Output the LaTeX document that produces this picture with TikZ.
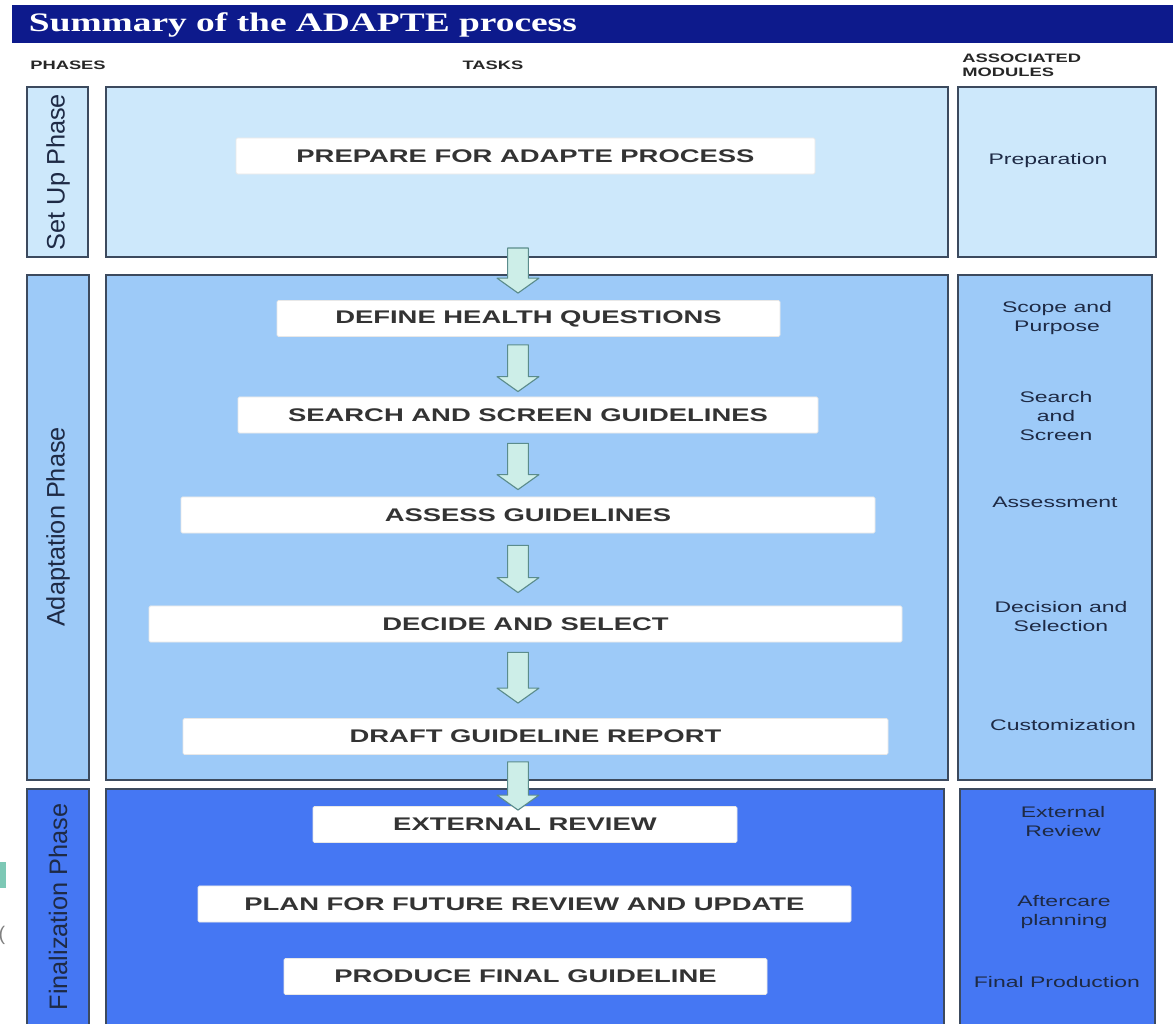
\documentclass[tikz,border=0pt]{standalone}
\usepackage{fontspec}
\setmainfont{Liberation Sans}
\newfontfamily\widesans[FakeStretch=1.5]{Liberation Sans}
\newfontfamily\widetitle[FakeStretch=1.4]{Liberation Serif}
\usetikzlibrary{fit,calc}

\definecolor{navy}{HTML}{0D1A8C}
\definecolor{edge}{HTML}{3C4A5E}
\definecolor{setupblue}{HTML}{CDE8FB}
\definecolor{adaptblue}{HTML}{9DCAF8}
\definecolor{finalblue}{HTML}{4577F3}
\definecolor{ink}{HTML}{1E2A45}
\definecolor{arrowfill}{HTML}{CDEEE8}
\definecolor{arrowedge}{HTML}{5B8C8C}
\definecolor{cropteal}{HTML}{7DC8B5}

\newcommand\taskarrow[4]{%
  \path ($(axis |- #1)+(0,#2)$) coordinate (a1) ($(axis |- #3)+(0,#4)$) coordinate (a2);
  \draw[flow] let \p1=(a1), \p2=(a2) in
    (\x1-7.4pt,\y1) -- (\x1+7.4pt,\y1) -- (\x1+7.4pt,\y2+10.6pt) -- (\x1+14.9pt,\y2+10.6pt)
    -- (\x1,\y2) -- (\x1-14.9pt,\y2+10.6pt) -- (\x1-7.4pt,\y2+10.6pt) -- cycle;}

\begin{document}
\begin{tikzpicture}[x=0.025cm, y=-0.025cm,
        phasebox/.style={draw=edge, line width=1.4pt, inner sep=0pt},
        setup/.style={phasebox, fill=setupblue},
        adapt/.style={phasebox, fill=adaptblue},
        final/.style={phasebox, fill=finalblue},
        taskbox/.style={fill=white, draw=white!82!gray, line width=0.6pt, rounded corners=1pt, inner sep=0pt, minimum height=0.9cm, text=black!80, font=\widesans\fontsize{13}{15}\selectfont\bfseries},
        wide/.style={minimum width=#1*0.025cm},
        phaselabel/.style={rotate=90, text=ink, font=\fontsize{18}{20}\selectfont},
        module/.style={align=center, text=ink, font=\widesans\fontsize{10.9}{13.5}\selectfont},
        colhead/.style={align=left, text=black!85, inner sep=0pt, font=\widesans\fontsize{8.7}{10}\selectfont\bfseries},
        flow/.style={draw=arrowedge, fill=arrowfill, line width=0.8pt, line join=round}
    ]
    \useasboundingbox (0,0) rectangle (1173,1024);
    \clip (0,0) rectangle (1173,1024);

    \node[fill=navy, inner sep=0pt, fit={(12,5) (1180,43)}] (header) {};
    \node[anchor=west, text=white, font=\widetitle\fontsize{19}{21}\selectfont\bfseries] (title) at (24,25) {Summary of the ADAPTE process};

    \node[colhead] (phases) at (68,65) {PHASES};
    \node[colhead] (tasks) at (493,65) {TASKS};
    \node[colhead, anchor=west] (modules) at (962,65) {ASSOCIATED\\MODULES};

    \node[setup, fit={(27,87) (88,257)}] (setL) {};
    \node[setup, fit={(106,87) (948,257)}] (setT) {};
    \node[setup, fit={(958,87) (1156,257)}] (setM) {};

    \node[adapt, fit={(27,275) (89,780)}] (adaL) {};
    \node[adapt, fit={(106,275) (948,780)}] (adaT) {};
    \node[adapt, fit={(958,275) (1152,780)}] (adaM) {};

    \node[final, fit={(27,789) (89,1045)}] (finL) {};
    \node[final, fit={(106,789) (944,1045)}] (finT) {};
    \node[final, fit={(960,789) (1155,1045)}] (finM) {};

    \node[phaselabel] (setLabel) at (58,172) {Set Up Phase};
    \node[phaselabel] (adaLabel) at (58,527) {Adaptation Phase};
    \node[phaselabel] (finLabel) at (58,907) {Finalization Phase};

    \node[taskbox, wide=579] (prep) at (525.5,156) {PREPARE FOR ADAPTE PROCESS};
    \node[taskbox, wide=503] (def) at (528.5,318.5) {DEFINE HEALTH QUESTIONS};
    \node[taskbox, wide=580] (search) at (528,415) {SEARCH AND SCREEN GUIDELINES};
    \node[taskbox, wide=694] (assess) at (528,515) {ASSESS GUIDELINES};
    \node[taskbox, wide=753] (decide) at (525.5,624) {DECIDE AND SELECT};
    \node[taskbox, wide=705] (draft) at (535.5,736.5) {DRAFT GUIDELINE REPORT};
    \node[taskbox, wide=424] (ext) at (525,824.5) {EXTERNAL REVIEW};
    \node[taskbox, wide=653] (plan) at (524.5,904) {PLAN FOR FUTURE REVIEW AND UPDATE};
    \node[taskbox, wide=483] (produce) at (525.5,976.5) {PRODUCE FINAL GUIDELINE};

    \node[module] (mPrep) at (1048,161) {Preparation};
    \node[module] (mScope) at (1057,318) {Scope and\\Purpose};
    \node[module] (mSearch) at (1056,416) {Search\\and\\Screen};
    \node[module] (mAssess) at (1055,502) {Assessment};
    \node[module] (mDecide) at (1061,617) {Decision and\\Selection};
    \node[module] (mCustom) at (1063,725) {Customization};
    \node[module] (mExt) at (1063,822) {External\\Review};
    \node[module] (mAfter) at (1064,912) {Aftercare\\planning};
    \node[module] (mFinal) at (1057,982) {Final Production};

    \coordinate (axis) at (518,0);
    \taskarrow{setT.south}{-10}{def.north}{-7}
    \taskarrow{def.south}{8}{search.north}{-5}
    \taskarrow{search.south}{10}{assess.north}{-7}
    \taskarrow{assess.south}{12}{decide.north}{-13}
    \taskarrow{decide.south}{10}{draft.north}{-15}
    \taskarrow{draft.south}{7}{ext.north}{4}

    \fill[cropteal] (0,862) rectangle (6,888);
    \node[text=gray, font=\fontsize{14}{14}\selectfont] (cropmark) at (2,935) {(};

\end{tikzpicture}
\end{document}
